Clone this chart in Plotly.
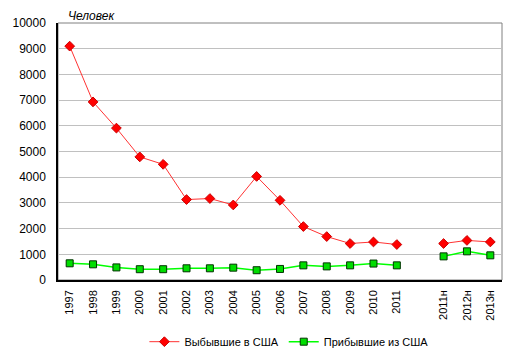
import plotly.graph_objects as go

categories = ["1997", "1998", "1999", "2000", "2001", "2002", "2003", "2004", "2005",
              "2006", "2007", "2008", "2009", "2010", "2011", " ", "2011н", "2012н", "2013н"]
departed = [9100, 6930, 5910, 4790, 4500, 3130, 3170, 2920, 4030,
            3100, 2080, 1690, 1420, 1480, 1380, None, 1420, 1540, 1480]
arrived = [650, 610, 490, 420, 420, 455, 455, 480, 380,
           430, 570, 530, 570, 640, 570, None, 920, 1115, 960]
y_ticks = list(range(0, 10001, 1000))
y_labels = [str(v) for v in y_ticks]

fig = go.Figure()
fig.add_trace(go.Scatter(
    x=categories, y=departed, name="Выбывшие в США", mode="lines+markers",
    line=dict(color="#FF3333", width=1),
    marker=dict(symbol="diamond", size=7.5, color="#FF0000", line=dict(color="#CC0000", width=1)),
    connectgaps=False))
fig.add_trace(go.Scatter(
    x=categories, y=arrived, name="Прибывшие из США", mode="lines+markers",
    line=dict(color="#00FF00", width=1.5),
    marker=dict(symbol="square", size=7, color="#00DD00", line=dict(color="#003300", width=1)),
    connectgaps=False))

fig.update_layout(
    width=507, height=349,
    margin=dict(l=50, r=13, t=15, b=77, autoexpand=False),
    paper_bgcolor="white", plot_bgcolor="white",
    font=dict(family="Liberation Sans, Arial", size=12, color="black"),
    showlegend=True,
    legend=dict(orientation="h", x=0.52, xanchor="center", y=-0.24, yanchor="middle",
                font=dict(size=11), itemwidth=30),
    shapes=[dict(type="rect", xref="paper", yref="paper", x0=0, x1=1, y0=0, y1=1,
                 line=dict(color="#808080", width=1), layer="below")],
    annotations=[dict(text="<i>Человек</i>", xref="paper", yref="paper", x=0.02, y=1.027,
                      xanchor="left", yanchor="middle", showarrow=False, borderpad=0,
                      font=dict(size=12, color="black"))],
)
fig.update_xaxes(type="category", range=[-0.5, len(categories) - 0.5], tickangle=-90,
                 showgrid=False, showline=True, linecolor="black", linewidth=1.5, ticks="",
                 tickfont=dict(size=11), automargin=False, ticklabelstandoff=4)
fig.update_yaxes(range=[0, 10000], tickvals=y_ticks, ticktext=y_labels, showgrid=True,
                 gridcolor="#C0C0C0", showline=True, linecolor="black", linewidth=1.5,
                 ticks="", zeroline=False, tickfont=dict(size=12), automargin=False,
                 ticklabelstandoff=8)

fig.write_html("out.html")
